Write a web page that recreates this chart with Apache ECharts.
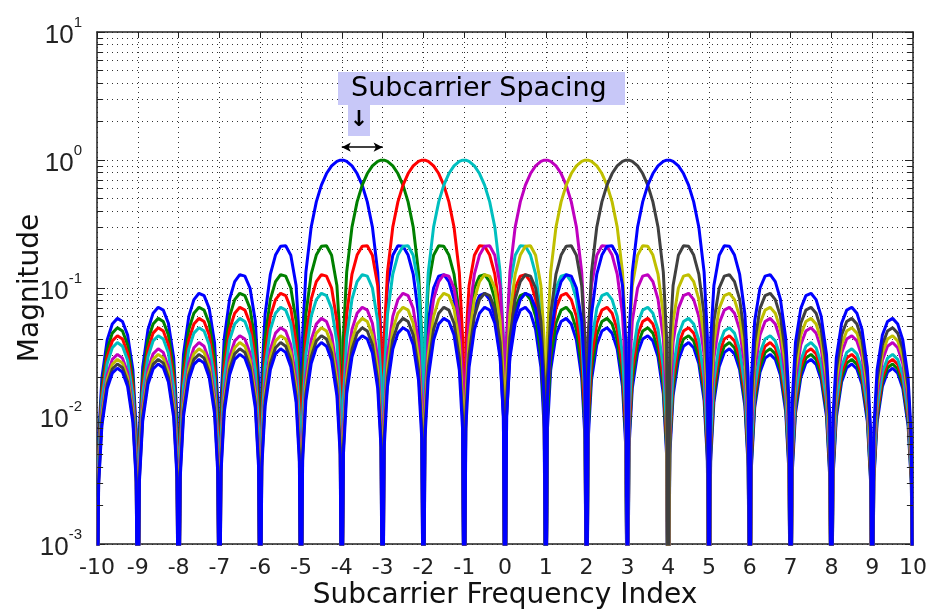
<!DOCTYPE html>
<html>
<head>
<meta charset="utf-8">
<script src="https://cdn.jsdelivr.net/npm/echarts@6/dist/echarts.min.js"></script>
<style>
  html, body { margin: 0; padding: 0; background: #fff; }
  #chart { width: 929px; height: 609px; }
</style>
</head>
<body>
<div id="chart"></div>
<script>
// subcarriers shown (0 is left empty), and their colours
const CENTERS = [-4, -3, -2, -1, 1, 2, 3, 4];
const COLORS = ['#0000ff', '#008000', '#ff0000', '#00bfbf', '#bf00bf', '#bfbf00', '#404040', '#0000ff'];

// magnitude read along one lobe, as a fraction of the subcarrier spacing
const LOBE_FRAC = [0, 0.04, 0.12, 0.25, 0.375, 0.5, 0.625, 0.75, 0.88, 0.96];
// main lobe, offset 0 .. 0.96
const MAIN_LOBE = [1.0, 0.997, 0.976, 0.900, 0.784, 0.637, 0.471, 0.300, 0.133, 0.0415];
// side lobes 1..13, offsets n+0.04 .. n+0.96 (the null at n is NULL_FLOOR)
const SIDE_LOBES = [
    [0.0384, 0.1046, 0.1801, 0.2139, 0.2122, 0.1810, 0.1286, 0.0623, 0.0203],
    [0.0196, 0.0553, 0.1000, 0.1238, 0.1273, 0.1120, 0.0818, 0.0407, 0.0135],
    [0.0131, 0.0376, 0.0693, 0.0871, 0.0909, 0.0811, 0.0600, 0.0302, 0.0101],
    [0.0099, 0.0284, 0.0530, 0.0672, 0.0707, 0.0636, 0.0474, 0.0240, 0.0080],
    [0.0079, 0.0229, 0.0429, 0.0547, 0.0579, 0.0523, 0.0392, 0.0199, 0.0067],
    [0.0066, 0.0191, 0.0360, 0.0461, 0.0490, 0.0444, 0.0333, 0.0170, 0.0057],
    [0.0057, 0.0165, 0.0310, 0.0399, 0.0424, 0.0386, 0.0290, 0.0149, 0.0050],
    [0.0050, 0.0144, 0.0273, 0.0351, 0.0375, 0.0341, 0.0257, 0.0132, 0.0045],
    [0.0044, 0.0128, 0.0243, 0.0314, 0.0335, 0.0306, 0.0231, 0.0119, 0.0040],
    [0.0040, 0.0116, 0.0220, 0.0283, 0.0303, 0.0277, 0.0209, 0.0108, 0.0036],
    [0.0036, 0.0105, 0.0200, 0.0259, 0.0277, 0.0253, 0.0192, 0.0099, 0.0033],
    [0.0033, 0.0097, 0.0184, 0.0238, 0.0255, 0.0233, 0.0177, 0.0091, 0.0031],
    [0.0031, 0.0089, 0.0170, 0.0220, 0.0236, 0.0216, 0.0164, 0.0084, 0.0029]
];
const NULL_FLOOR = 0.0001;   // nulls fall below the 10^-3 floor
const LAST_NULL = 14;

// dotted log grid between the decades
const MINOR_Y = [0.002, 0.003, 0.004, 0.005, 0.006, 0.007, 0.008, 0.009,
                 0.02, 0.03, 0.04, 0.05, 0.06, 0.07, 0.08, 0.09,
                 0.2, 0.3, 0.4, 0.5, 0.6, 0.7, 0.8, 0.9,
                 2, 3, 4, 5, 6, 7, 8, 9];

const FONT = 'DejaVu Sans';

// one-sided profile -> symmetric profile
let half = [];
MAIN_LOBE.forEach((m, j) => half.push([LOBE_FRAC[j], m]));
SIDE_LOBES.forEach((row, i) => {
    let n = i + 1;
    half.push([n, NULL_FLOOR]);
    row.forEach((m, j) => half.push([n + LOBE_FRAC[j + 1], m]));
});
half.push([LAST_NULL, NULL_FLOOR]);
let profile = half.slice(1).reverse().map(p => [-p[0], p[1]]).concat(half);

let curves = CENTERS.map((c, i) => ({
    type: 'line',
    name: 'sc' + c,
    data: profile
        .map(p => [+(c + p[0]).toFixed(3), p[1]])
        .filter(p => p[0] >= -10 && p[0] <= 10),
    showSymbol: false,
    symbol: 'none',
    lineStyle: { color: COLORS[i], width: 3 },
    itemStyle: { color: COLORS[i] },
    clip: true,
    z: 3
}));

let tickPairs = [];
MINOR_Y.forEach(v => {
    tickPairs.push([{ coord: [-10, v] }, { coord: [-9.85, v] }]);
    tickPairs.push([{ coord: [9.85, v] }, { coord: [10, v] }]);
});

let chart = echarts.init(document.getElementById('chart'));
let option = {
    animation: false,
    grid: { left: 97, right: 16, top: 32, bottom: 65, containLabel: false, outerBoundsMode: 'none' },
    xAxis: [{
        type: 'value',
        min: -10, max: 10, interval: 1,
        name: 'Subcarrier Frequency Index',
        nameLocation: 'middle',
        nameGap: 38,
        nameMoveOverlap: false,
        nameTextStyle: { fontFamily: FONT, fontSize: 28, color: '#111' },
        axisLine: { onZero: false, lineStyle: { color: '#222', width: 1.5 } },
        axisTick: { inside: true, length: 6, lineStyle: { color: '#222' } },
        axisLabel: { fontFamily: FONT, fontSize: 22, color: '#222', margin: 13 },
        splitLine: { show: true, lineStyle: { color: '#333', type: [1, 4], width: 1 } }
    }, {
        type: 'value', position: 'top',
        min: -10, max: 10, interval: 1,
        axisLine: { onZero: false, lineStyle: { color: '#222', width: 1.5 } },
        axisTick: { inside: true, length: 6, lineStyle: { color: '#222' } },
        axisLabel: { show: false },
        splitLine: { show: false }
    }],
    yAxis: [{
        type: 'log', logBase: 10,
        min: 0.001, max: 10,
        name: 'Magnitude',
        nameLocation: 'middle',
        nameGap: 52,
        nameMoveOverlap: false,
        nameTextStyle: { fontFamily: FONT, fontSize: 28, color: '#111' },
        axisLine: { show: true, onZero: false, lineStyle: { color: '#222', width: 1.5 } },
        axisTick: { inside: true, length: 8, lineStyle: { color: '#222' } },
        axisLabel: {
            margin: 15,
            formatter: v => '{b|10}{s|' + Math.round(Math.log10(v)) + '}',
            rich: {
                b: { fontFamily: 'Liberation Sans', fontSize: 26, color: '#222', verticalAlign: 'bottom', lineHeight: 34 },
                s: { fontFamily: 'Liberation Sans', fontSize: 15, color: '#222', verticalAlign: 'top', lineHeight: 15 }
            }
        },
        splitLine: { show: true, lineStyle: { color: '#333', type: [1, 4], width: 1 } }
    }, {
        type: 'log', logBase: 10, position: 'right',
        min: 0.001, max: 10,
        axisLine: { show: true, onZero: false, lineStyle: { color: '#222', width: 1.5 } },
        axisTick: { inside: true, length: 8, lineStyle: { color: '#222' } },
        axisLabel: { show: false },
        splitLine: { show: false }
    }],
    graphic: [
        { type: 'rect', shape: { x: 338, y: 72, width: 287, height: 33 }, style: { fill: '#c8c8f8' }, z: 10 },
        { type: 'rect', shape: { x: 348, y: 104, width: 22, height: 32 }, style: { fill: '#c8c8f8' }, z: 10 },
        { type: 'text', x: 351, y: 89, z: 11,
          style: { text: 'Subcarrier Spacing', font: '27px "DejaVu Sans"', fill: '#000', verticalAlign: 'middle' } },
        { type: 'text', x: 359, y: 120, z: 11,
          style: { text: '\u2193', font: 'bold 22px "DejaVu Sans"', fill: '#000', align: 'center', verticalAlign: 'middle' } }
    ],
    series: [{
        type: 'line',
        data: [],
        markLine: {
            silent: true, symbol: 'none', z: 1,
            label: { show: false },
            lineStyle: { color: '#333', type: [1, 4], width: 1 },
            data: MINOR_Y.map(v => ({ yAxis: v }))
        }
    }, {
        type: 'line',
        data: [],
        markLine: {
            silent: true, symbol: 'none', z: 6,
            label: { show: false },
            lineStyle: { color: '#222', type: 'solid', width: 1 },
            data: tickPairs
        }
    }].concat(curves).concat([{
        type: 'line',
        data: [],
        markLine: {
            silent: true,
            symbol: ['arrow', 'arrow'],
            symbolSize: [7, 9],
            label: { show: false },
            lineStyle: { color: '#000', type: 'solid', width: 1.5 },
            data: [[{ coord: [-4, 1.26] }, { coord: [-3, 1.26] }]]
        }
    }])
};
chart.setOption(option);
</script>
</body>
</html>
